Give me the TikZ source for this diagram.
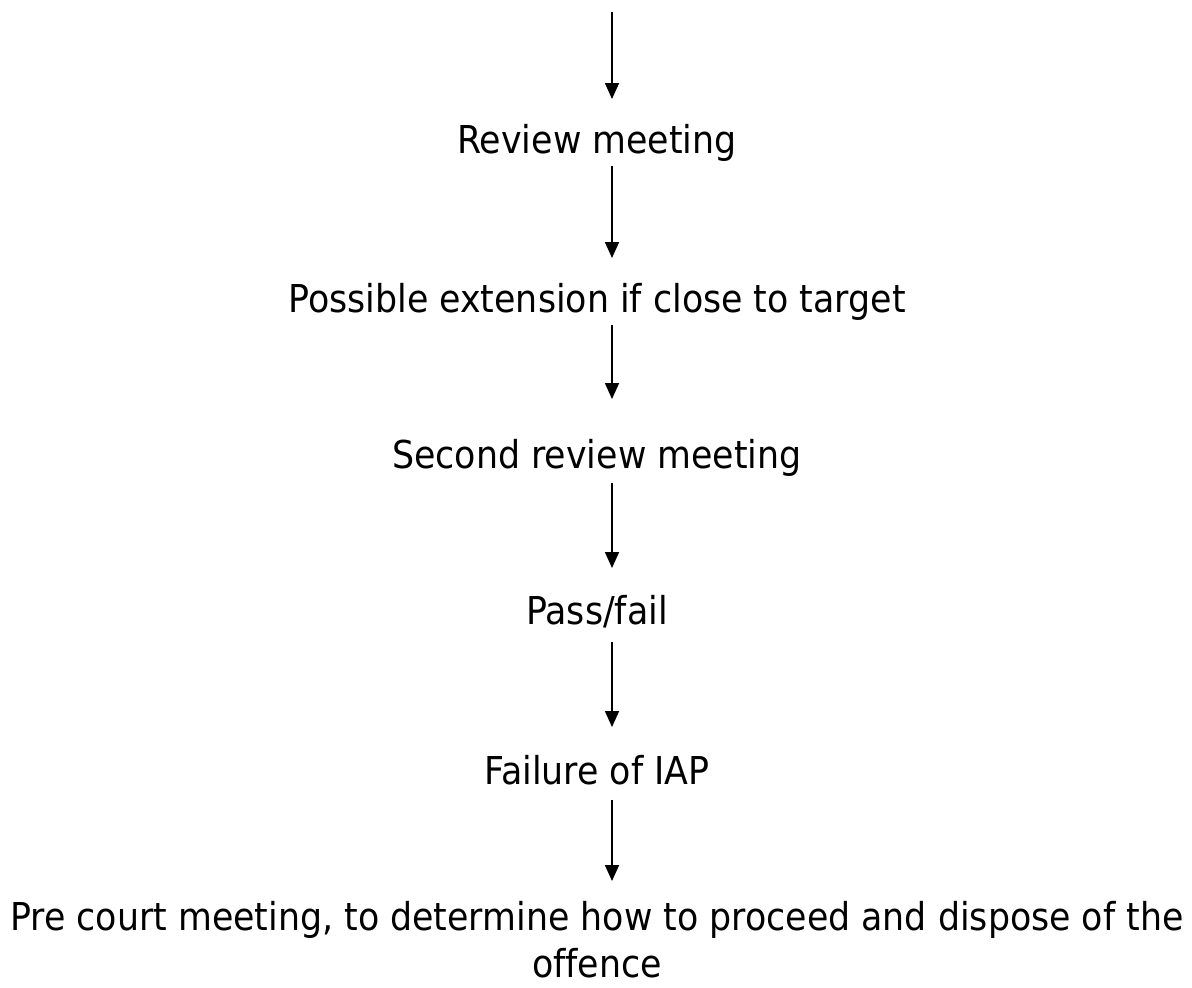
\documentclass[tikz,border=0pt]{standalone}
\usepackage{fontspec}
\setmainfont{DejaVu Sans}[FakeStretch=0.906,Ligatures=NoCommon]
\usetikzlibrary{arrows.meta,calc}
\tikzset{
  stage/.style={anchor=base, inner sep=0pt, align=center, font=\fontsize{19.2}{23.5}\selectfont},
  arr/.style={line width=0.8pt, -{Triangle[width=7pt,length=8pt]}}
}
\begin{document}
\begin{tikzpicture}[x=0.5pt,y=-0.5pt]
\useasboundingbox[fill=white] (0,0) rectangle (1192,987);
\coordinate (ax) at (612,0);
\coordinate (top) at (612,12);
\node[stage] (rev) at (597,153) {Review meeting};
\node[stage] (pos) at (597,312) {Possible extension if close to target};
\node[stage] (sec) at (597,468) {Second review meeting};
\node[stage] (pf)  at (597,624) {Pass/fail};
\node[stage] (fai) at (597,784) {Failure of IAP};
\node[stage] (pre) at (597,977) {Pre court meeting, to determine how to proceed and dispose of the\\offence};
\draw[arr] (top) -- ($(rev.base -| ax)+(0,-54)$);
\draw[arr] ($(rev.base -| ax)+(0,13)$) -- ($(pos.base -| ax)+(0,-54)$);
\draw[arr] ($(pos.base -| ax)+(0,13)$) -- ($(sec.base -| ax)+(0,-69)$);
\draw[arr] ($(sec.base -| ax)+(0,15)$) -- ($(pf.base -| ax)+(0,-56)$);
\draw[arr] ($(pf.base -| ax)+(0,18)$) -- ($(fai.base -| ax)+(0,-57)$);
\draw[arr] ($(fai.base -| ax)+(0,16)$) -- ($(pre.base -| ax)+(0,-96)$);
\end{tikzpicture}
\end{document}
